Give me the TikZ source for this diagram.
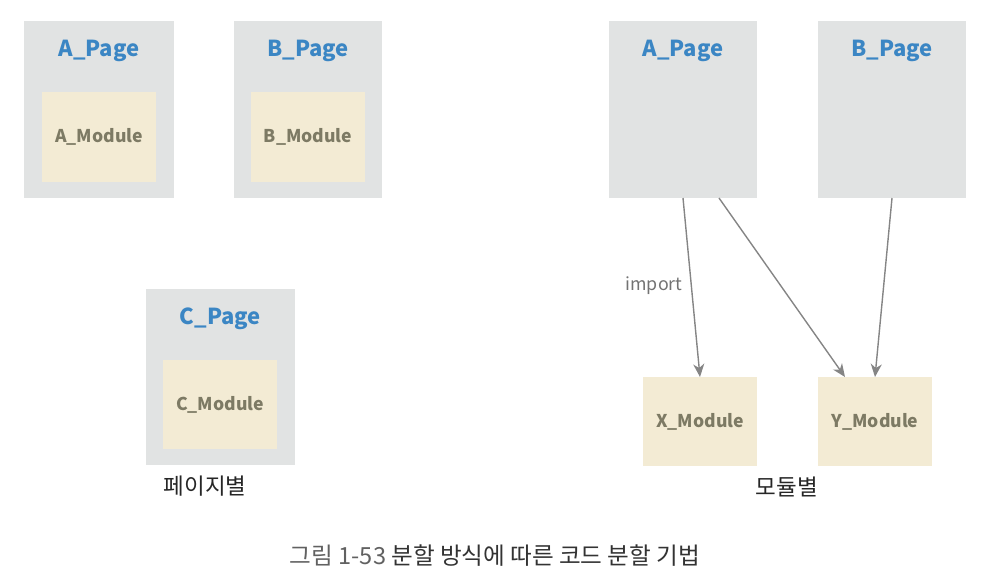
\documentclass[tikz,border=0pt]{standalone}
\usepackage{fontspec}
\setmainfont{Noto Sans CJK KR}
\newfontfamily\kr{Noto Sans CJK KR}
\usetikzlibrary{arrows.meta}
\definecolor{pagegray}{HTML}{E1E3E3}
\definecolor{modbeige}{HTML}{F3EBD4}
\definecolor{titleblue}{HTML}{3B86C4}
\definecolor{modtext}{HTML}{7D7A64}
\definecolor{arrgray}{HTML}{858585}
\begin{document}
\begin{tikzpicture}[x=1pt,y=-1pt,
  pagebox/.style={fill=pagegray, draw=none, inner sep=0pt, outer sep=0pt,
    minimum height=177pt},
  modbox/.style={fill=modbeige, draw=none, inner sep=0pt, outer sep=0pt,
    minimum width=114pt, minimum height=89pt,
    font=\kr\bfseries\fontsize{17.6}{20}\selectfont, text=modtext},
  pagetitle/.style={font=\kr\bfseries\fontsize{22}{25}\selectfont, text=titleblue, inner sep=0pt},
  grouplabel/.style={font=\kr\fontsize{22.5}{26}\selectfont, text=black!85, inner sep=0pt},
  arr/.style={draw=arrgray, line width=1.4pt, -{Stealth[length=13pt,width=11pt,inset=4pt]}}
]
\useasboundingbox (0,0) rectangle (982,586);

% page-based split
\node[pagebox, minimum width=150pt] (lap) at (99,109.5) {};
\node[pagetitle] (lapt) at (99,50.5) {A\_Page};
\node[modbox, minimum height=90pt] (lam) at (99,137) {A\_Module};

\node[pagebox, minimum width=148pt] (lbp) at (308,109.5) {};
\node[pagetitle] (lbpt) at (308,50.5) {B\_Page};
\node[modbox, minimum height=90pt] (lbm) at (308,137) {B\_Module};

\node[pagebox, minimum width=149pt, minimum height=176pt] (lcp) at (220.5,377) {};
\node[pagetitle] (lcpt) at (220.5,318.5) {C\_Page};
\node[modbox] (lcm) at (220,404.5) {C\_Module};

\node[grouplabel] (byPage) at (205,486) {페이지별};

% module-based split
\node[pagebox, minimum width=148pt] (ra) at (683,109.5) {};
\node[pagetitle] (rat) at (683,50.5) {A\_Page};
\node[pagebox, minimum width=148pt] (rb) at (892,109.5) {};
\node[pagetitle] (rbt) at (892,50.5) {B\_Page};

\node[modbox] (xm) at (700,421.5) {X\_Module};
\node[modbox] (ym) at (875,421.5) {Y\_Module};

\draw[arr] (ra.south) -- (xm.north);
\draw[arr] ([xshift=36pt]ra.south) -- ([xshift=27pt]ym.north west);
\draw[arr] (rb.south) -- (ym.north);

\node[font=\kr\fontsize{17.8}{21}\selectfont, text=black!55, inner sep=0pt] (imp) at (654,286) {import};

\node[grouplabel] (byModule) at (787,487) {모듈별};

% caption
\node[font=\kr\fontsize{23.6}{28}\selectfont, inner sep=0pt] (cap) at (495,556)
  {\textcolor{black!62}{그림 1-53} \textcolor{black!80}{분할 방식에 따른 코드 분할 기법}};
\end{tikzpicture}
\end{document}
